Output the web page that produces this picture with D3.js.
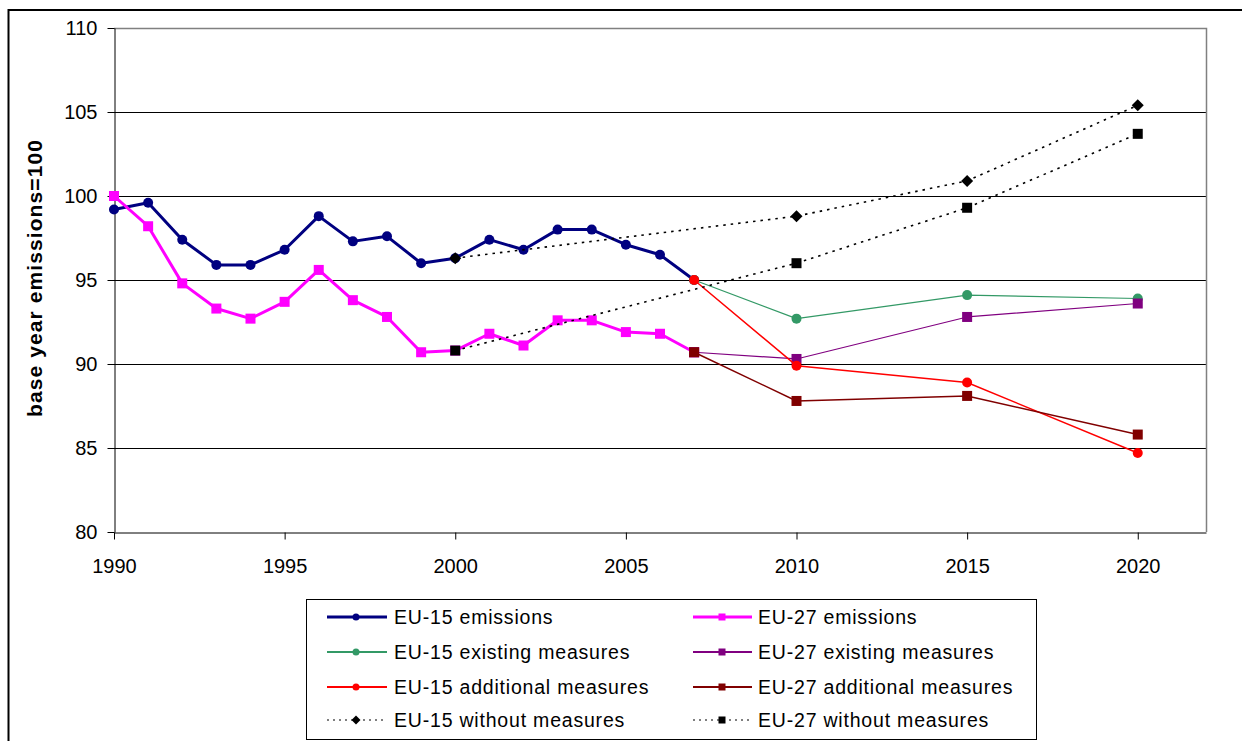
<!DOCTYPE html>
<html>
<head>
<meta charset="utf-8">
<script src="https://cdn.jsdelivr.net/npm/d3@7"></script>
<style>
  html, body { margin: 0; padding: 0; background: #fff; }
  svg { display: block; font-family: "Liberation Sans", Arial, sans-serif; }
</style>
</head>
<body>
<svg id="chart" width="1242" height="741"></svg>
<script>
// ---- data ----
const histYears = [1990,1991,1992,1993,1994,1995,1996,1997,1998,1999,2000,2001,2002,2003,2004,2005,2006,2007];
const eu15Emissions = [99.2, 99.6, 97.4, 95.9, 95.9, 96.8, 98.8, 97.3, 97.6, 96.0, 96.3, 97.4, 96.8, 98.0, 98.0, 97.1, 96.5, 95.0];
const eu27Emissions = [100.0, 98.2, 94.8, 93.3, 92.7, 93.7, 95.6, 93.8, 92.8, 90.7, 90.8, 91.8, 91.1, 92.6, 92.6, 91.9, 91.8, 90.7];
const projYears = [2007, 2010, 2015, 2020];
const eu15Existing = [95.0, 92.7, 94.1, 93.9];
const eu27Existing = [90.7, 90.3, 92.8, 93.6];
const eu15Additional = [95.0, 89.9, 88.9, 84.7];
const eu27Additional = [90.7, 87.8, 88.1, 85.8];
const withoutYears = [2000, 2010, 2015, 2020];
const eu15Without = [96.3, 98.8, 100.9, 105.4];
const eu27Without = [90.8, 96.0, 99.3, 103.7];
const xTickValues = [1990, 1995, 2000, 2005, 2010, 2015, 2020];
const yTickValues = [80, 85, 90, 95, 100, 105, 110];
const yTitle = "base year emissions=100";

const series = [
  {name: "EU-15 emissions", years: histYears, values: eu15Emissions, color: "#000080", width: 3, marker: "circle", dash: null, col: 0, row: 0},
  {name: "EU-27 emissions", years: histYears, values: eu27Emissions, color: "#FF00FF", width: 3, marker: "square", dash: null, col: 1, row: 0},
  {name: "EU-15 existing measures", years: projYears, values: eu15Existing, color: "#339966", width: 1.2, marker: "circle", dash: null, col: 0, row: 1},
  {name: "EU-27 existing measures", years: projYears, values: eu27Existing, color: "#800080", width: 1.2, marker: "square", dash: null, col: 1, row: 1},
  {name: "EU-15 additional measures", years: projYears, values: eu15Additional, color: "#FF0000", width: 1.5, marker: "circle", dash: null, col: 0, row: 2},
  {name: "EU-27 additional measures", years: projYears, values: eu27Additional, color: "#800000", width: 1.5, marker: "square", dash: null, col: 1, row: 2},
  {name: "EU-15 without measures", years: withoutYears, values: eu15Without, color: "#000000", width: 1.6, marker: "diamond", dash: "2.5,5", col: 0, row: 3},
  {name: "EU-27 without measures", years: withoutYears, values: eu27Without, color: "#000000", width: 1.6, marker: "square", dash: "2.5,5", col: 1, row: 3}
];

// ---- layout ----
const svg = d3.select("#chart");
const plot = {left: 114, top: 28, right: 1206, bottom: 532};

const x = d3.scaleLinear().domain([1990, 2022]).range([plot.left, plot.right]);
const y = d3.scaleLinear().domain([80, 110]).range([plot.bottom, plot.top]);

// outer chart frame
svg.append("rect")
  .attr("x", 8.5).attr("y", 10)
  .attr("width", 1400).attr("height", 900)
  .attr("fill", "none").attr("stroke", "#000").attr("stroke-width", 2);

// gridlines
svg.append("g").selectAll("line")
  .data(yTickValues.filter(v => v > 80 && v < 110))
  .join("line")
  .attr("x1", plot.left).attr("x2", plot.right)
  .attr("y1", d => Math.round(y(d)) + 0.5).attr("y2", d => Math.round(y(d)) + 0.5)
  .attr("stroke", "#000").attr("stroke-width", 1);

// plot area border (top & right, gray)
svg.append("path")
  .attr("d", `M${plot.left},${plot.top + 0.5}H${plot.right + 0.5}V${plot.bottom}`)
  .attr("fill", "none").attr("stroke", "#808080").attr("stroke-width", 1.5);

// axes
const yAxis = d3.axisLeft(y).tickValues(yTickValues).tickSize(7).tickSizeOuter(0).tickPadding(10).tickFormat(d3.format("d"));
const gy = svg.append("g").attr("transform", `translate(${plot.left + 0.5},0)`).call(yAxis);
gy.selectAll("text").attr("font-size", 20).attr("fill", "#000").attr("font-family", "Liberation Sans, Arial, sans-serif");
gy.selectAll("line, path").attr("stroke", "#000").attr("stroke-width", 1);

const xAxis = d3.axisBottom(x).tickValues(xTickValues).tickSize(7).tickSizeOuter(0).tickPadding(19).tickFormat(d3.format("d"));
const gx = svg.append("g").attr("transform", `translate(0,${plot.bottom + 0.5})`).call(xAxis);
gx.selectAll("text").attr("font-size", 20).attr("fill", "#000").attr("font-family", "Liberation Sans, Arial, sans-serif");
gx.selectAll("line, path").attr("stroke", "#000").attr("stroke-width", 1);

// y title
svg.append("text")
  .attr("transform", `translate(42,${(plot.top + plot.bottom) / 2 - 2}) rotate(-90)`)
  .attr("text-anchor", "middle")
  .attr("font-size", 21).attr("font-weight", "bold")
  .attr("letter-spacing", 1.1)
  .text(yTitle);

// marker drawing
function drawMarker(sel, type, color, size) {
  if (type === "circle") {
    sel.append("circle").attr("r", size / 2).attr("fill", color);
  } else if (type === "square") {
    sel.append("rect").attr("x", -size / 2).attr("y", -size / 2).attr("width", size).attr("height", size).attr("fill", color);
  } else if (type === "diamond") {
    const s = size / 2 + 1;
    sel.append("path").attr("d", `M0,${-s}L${s},0L0,${s}L${-s},0Z`).attr("fill", color);
  }
}

const line = d3.line().x(d => x(d[0])).y(d => y(d[1]));

series.forEach(s => {
  const pts = s.years.map((yr, i) => [yr, s.values[i]]);
  const g = svg.append("g");
  g.append("path")
    .attr("d", line(pts))
    .attr("fill", "none")
    .attr("stroke", s.color)
    .attr("stroke-width", s.width)
    .attr("stroke-dasharray", s.dash)
    .attr("stroke-linejoin", "round");
  pts.forEach(p => {
    const m = g.append("g").attr("transform", `translate(${x(p[0])},${y(p[1])})`);
    drawMarker(m, s.marker, s.color, 10);
  });
});

// legend
const legend = {x: 306.5, y: 599.5, w: 730, h: 140};
svg.append("rect")
  .attr("x", legend.x).attr("y", legend.y)
  .attr("width", legend.w).attr("height", legend.h)
  .attr("fill", "#fff").attr("stroke", "#000").attr("stroke-width", 1);

const colX = [{l0: 327, l1: 387, m: 356, t: 394}, {l0: 693, l1: 752, m: 722, t: 758}];
const rowY = [617, 652, 687, 720];

series.forEach(s => {
  const c = colX[s.col], ry = rowY[s.row];
  const g = svg.append("g");
  g.append("line")
    .attr("x1", c.l0).attr("x2", c.l1).attr("y1", ry).attr("y2", ry)
    .attr("stroke", s.color)
    .attr("stroke-width", s.dash ? 1.2 : Math.max(s.width, 1.2) + (s.width > 2 ? 0 : 0.6))
    .attr("stroke-dasharray", s.dash ? "2,4" : null);
  const m = g.append("g").attr("transform", `translate(${c.m},${ry})`);
  drawMarker(m, s.marker, s.color, 7);
  g.append("text")
    .attr("x", c.t).attr("y", ry + 7)
    .attr("font-size", 19.5)
    .attr("letter-spacing", 0.8)
    .attr("fill", "#000")
    .text(s.name);
});
</script>
</body>
</html>
